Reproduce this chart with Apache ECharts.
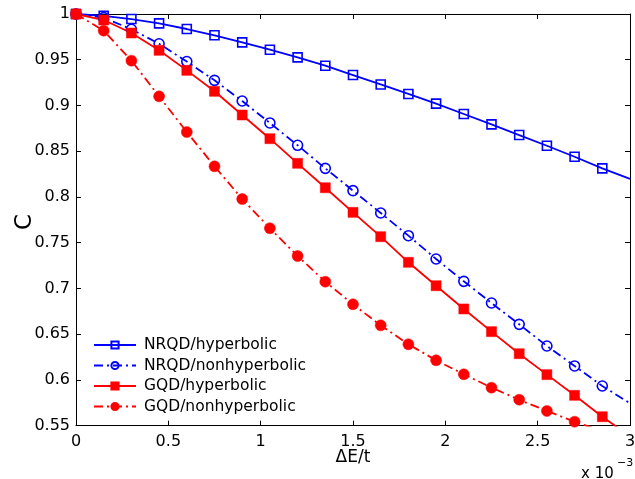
<!DOCTYPE html>
<html>
<head>
<meta charset="utf-8">
<script src="https://cdn.jsdelivr.net/npm/echarts@6/dist/echarts.min.js"></script>
<style>html,body{margin:0;padding:0;background:#fff;}#c{width:635px;height:479px;}</style>
</head>
<body>
<div id="c"></div>
<script>
const xs = [0, 0.15, 0.3, 0.45, 0.6, 0.75, 0.9, 1.05, 1.2, 1.35, 1.5, 1.65, 1.8, 1.95, 2.1, 2.25, 2.4, 2.55, 2.7, 2.85, 3.0];
const nrqdHyp = [1.0, 0.998, 0.9945, 0.9898, 0.9836, 0.9767, 0.969, 0.961, 0.9526, 0.9435, 0.9333, 0.923, 0.9126, 0.902, 0.8907, 0.8794, 0.8677, 0.856, 0.844, 0.8313, 0.8197];
const nrqdNon = [1.0, 0.996, 0.9833, 0.9675, 0.948, 0.9275, 0.9049, 0.8809, 0.8565, 0.8313, 0.8069, 0.7825, 0.7577, 0.7322, 0.7078, 0.6841, 0.6608, 0.6371, 0.6153, 0.5934, 0.5745];
const gqdHyp = [1.0, 0.9934, 0.9792, 0.9603, 0.9384, 0.9155, 0.8896, 0.8637, 0.8368, 0.8101, 0.7832, 0.7566, 0.7286, 0.703, 0.6776, 0.6528, 0.6287, 0.6058, 0.5832, 0.5598, 0.5385];
const gqdNon = [1.0, 0.9818, 0.949, 0.91, 0.871, 0.8335, 0.7978, 0.7658, 0.7355, 0.7074, 0.6827, 0.6597, 0.639, 0.6215, 0.6062, 0.5916, 0.5784, 0.5661, 0.5544, 0.544, 0.535];
const seriesNames = ['NRQD/hyperbolic', 'NRQD/nonhyperbolic', 'GQD/hyperbolic', 'GQD/nonhyperbolic'];
const xLabel = 'ΔE/t';
const yLabel = 'C';
const xExpBase = 'x 10';
const xExpPow = '−3';

const FONT = 'DejaVu Sans';
const BLUE = '#0000ff', RED = '#ff0000';
const DASHDOT = [9, 4, 2, 4];

function pts(ys) {
  return xs.map((x, i) => {
    const item = { value: [x, ys[i]] };
    if (i === xs.length - 1) item.symbol = 'none';
    return item;
  });
}

function mk(name, ys, color, symbol, filled, dash, size) {
  return {
    name: name,
    type: 'line',
    data: pts(ys),
    symbol: symbol,
    symbolSize: size,
    clip: true,
    showAllSymbol: true,
    animation: false,
    lineStyle: { color: color, width: 1.8, type: dash ? DASHDOT : 'solid' },
    itemStyle: filled
      ? { color: color, borderColor: color, borderWidth: 0.5 }
      : { color: 'rgba(0,0,0,0)', borderColor: color, borderWidth: 1.6 },
    emphasis: { disabled: true }
  };
}

const axisCommon = {
  axisLine: { show: true, onZero: false, lineStyle: { color: '#000', width: 1 } },
  axisTick: { show: true, inside: true, length: 5, lineStyle: { color: '#000', width: 1 } },
  splitLine: { show: false }
};
const fmt = v => String(+(+v).toFixed(2));

const chart = echarts.init(document.getElementById('c'), null, { renderer: 'canvas' });
chart.setOption({
  animation: false,
  backgroundColor: '#fff',
  grid: { left: 76, right: 5, top: 14, bottom: 53.3, containLabel: false, outerBoundsMode: 'none' },
  xAxis: [
    Object.assign({
      type: 'value', min: 0, max: 3, interval: 0.5, position: 'bottom',
      axisLabel: { color: '#000', fontFamily: FONT, fontSize: 16, margin: 8, formatter: fmt }
    }, axisCommon),
    Object.assign({
      type: 'value', min: 0, max: 3, interval: 0.5, position: 'top',
      axisLabel: { show: false }
    }, axisCommon)
  ],
  yAxis: [
    Object.assign({
      type: 'value', min: 0.55, max: 1, interval: 0.05, position: 'left',
      axisLabel: { color: '#000', fontFamily: FONT, fontSize: 16, margin: 6, formatter: fmt }
    }, axisCommon),
    Object.assign({
      type: 'value', min: 0.55, max: 1, interval: 0.05, position: 'right',
      axisLabel: { show: false }
    }, axisCommon)
  ],
  legend: {
    show: true,
    orient: 'vertical',
    left: 93,
    top: 337,
    padding: 0,
    itemWidth: 42,
    itemHeight: 9,
    itemGap: 4.5,
    data: seriesNames,
    textStyle: { color: '#000', fontFamily: FONT, fontSize: 15.5, lineHeight: 14, padding: [0, 0, 0, 3] },
    selectedMode: false
  },
  series: [
    mk(seriesNames[0], nrqdHyp, BLUE, 'rect', false, false, 9),
    mk(seriesNames[1], nrqdNon, BLUE, 'circle', false, true, 10),
    mk(seriesNames[2], gqdHyp, RED, 'rect', true, false, 10),
    mk(seriesNames[3], gqdNon, RED, 'circle', true, true, 11)
  ],
  graphic: [
    { type: 'text', x: 25, y: 222, rotation: Math.PI / 2,
      style: { text: yLabel, fill: '#000', font: '23px "DejaVu Sans"', textAlign: 'center', textVerticalAlign: 'middle' } },
    { type: 'text', x: 353, y: 458,
      style: { text: xLabel, fill: '#000', font: '17px "DejaVu Sans"', textAlign: 'center', textVerticalAlign: 'middle' } },
    { type: 'text', left: 581, top: 467, style: { text: xExpBase, fill: '#000', font: '15px "DejaVu Sans"' } },
    { type: 'text', left: 617, top: 458, style: { text: xExpPow, fill: '#000', font: '11px "DejaVu Sans"' } }
  ]
});
</script>
</body>
</html>
